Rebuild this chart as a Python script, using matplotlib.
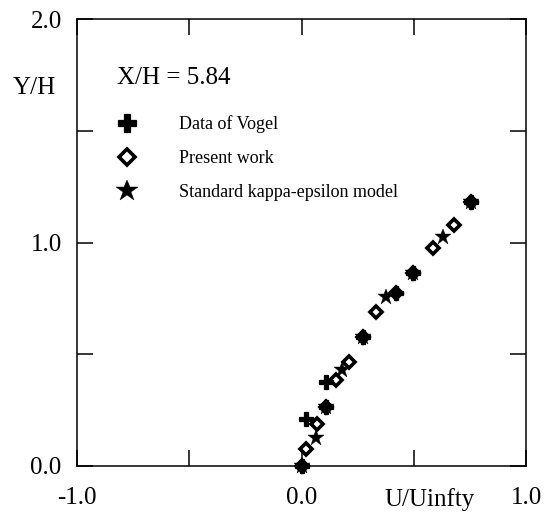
import matplotlib.pyplot as plt

plt.rcParams['font.family'] = 'Liberation Serif'

# velocity profile at X/H = 5.84
vogel_u = [0.0, 0.022, 0.107, 0.107, 0.272, 0.42, 0.496, 0.754]
vogel_y = [0.0, 0.21, 0.264, 0.376, 0.577, 0.774, 0.864, 1.181]

present_u = [0.0, 0.018, 0.071, 0.107, 0.152, 0.21, 0.272, 0.33, 0.42, 0.496, 0.585, 0.679, 0.754]
present_y = [0.0, 0.076, 0.188, 0.264, 0.385, 0.465, 0.577, 0.689, 0.774, 0.864, 0.975, 1.078, 1.181]

ke_u = [0.0, 0.0625, 0.107, 0.179, 0.272, 0.375, 0.496, 0.629, 0.754]
ke_y = [0.0, 0.125, 0.264, 0.43, 0.577, 0.756, 0.864, 1.025, 1.181]

xticks = [-1.0, -0.5, 0.0, 0.5, 1.0]
xticklabels = ['-1.0', '', '0.0', '', '1.0']
yticks = [0.0, 0.5, 1.0, 1.5, 2.0]
yticklabels = ['0.0', '', '1.0', '', '2.0']

fig = plt.figure(figsize=(5.54, 5.14), dpi=100)
ax = fig.add_axes([77/554, 1 - 466/514, 449/554, 447/514])

ax.plot(vogel_u, vogel_y, ls='none', marker='P', ms=9.5, color='black', mew=0.9,
        label='Data of Vogel', zorder=3, clip_on=False)
ax.plot(present_u, present_y, ls='none', marker='D', ms=6.2, mfc='none', mec='black',
        mew=2.6, label='Present work', zorder=4, clip_on=False)
ax.plot(ke_u, ke_y, ls='none', marker='*', ms=12, color='black', mew=0.3,
        label='Standard kappa-epsilon model', zorder=5, clip_on=False)

ax.set_xlim(-1.0, 1.0)
ax.set_ylim(0.0, 2.0)
ax.set_xticks(xticks)
ax.set_xticklabels(xticklabels)
ax.set_yticks(yticks)
ax.set_yticklabels(yticklabels)
ax.tick_params(direction='in', length=11.5, width=1.1, top=True, right=True,
               labelsize=18)
ax.tick_params(axis='x', pad=15)
ax.tick_params(axis='y', pad=11)
for s in ax.spines.values():
    s.set_linewidth(1.1)

ax.text(0.786, -0.075, 'U/Uinfty', transform=ax.transAxes, ha='center', va='center',
        fontsize=18)
ax.text(-0.094, 0.845, 'Y/H', transform=ax.transAxes, ha='center', va='center',
        fontsize=18)
ax.text(0.089, 0.868, 'X/H = 5.84', transform=ax.transAxes, ha='left', va='center',
        fontsize=18)

ax.legend(loc='upper left', bbox_to_anchor=(0.091, 0.785), frameon=False,
          fontsize=13, markerscale=1.38, handlelength=1.0, handletextpad=2.4,
          labelspacing=0.94, borderpad=0, borderaxespad=0)

fig.savefig('out.png', dpi=100)
